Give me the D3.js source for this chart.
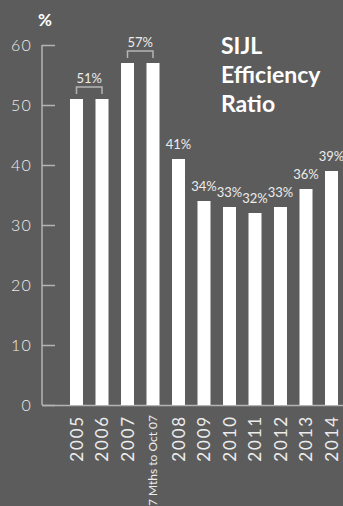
<!DOCTYPE html>
<html>
<head>
<meta charset="utf-8">
<script src="https://cdn.jsdelivr.net/npm/d3@7"></script>
<style>
  html, body { margin: 0; padding: 0; background: #5c5c5c; }
  svg { display: block; font-family: Lato, "Open Sans", sans-serif; }
</style>
</head>
<body>
<div id="chart"></div>
<script>
// Data
var categories = ["2005", "2006", "2007", "7 Mths to Oct 07", "2008", "2009", "2010", "2011", "2012", "2013", "2014"];
var values = [51, 51, 57, 57, 41, 34, 33, 32, 33, 36, 39];
var barLabels = ["", "", "", "", "41%", "34%", "33%", "32%", "33%", "36%", "39%"];
var brackets = [
  { from: "2005", to: "2006", label: "51%" },
  { from: "2007", to: "7 Mths to Oct 07", label: "57%" }
];
var yTicks = [0, 10, 20, 30, 40, 50, 60];
var titleLines = ["SIJL", "Efficiency", "Ratio"];

var width = 343;
var height = 506;
var axisColor = "#b4b4b4";
var textColor = "#ececec";

var svg = d3.select("#chart").append("svg")
  .attr("width", width)
  .attr("height", height);

/* Scales */
var xScale = d3.scaleBand()
  .domain(categories)
  .range([57.5, 350.5])
  .paddingInner(0.49)
  .paddingOuter(0.49);

var yScale = d3.scaleLinear()
  .domain([0, 60])
  .range([405, 45]);

/* Y axis */
var axisX = 42;
var yAxis = d3.axisRight(yScale)
  .tickValues(yTicks)
  .tickSize(13)
  .tickFormat("");

var yAxisGroup = svg.append("g")
  .attr("transform", `translate(${axisX},0)`)
  .call(yAxis);
yAxisGroup.select(".domain").remove();
yAxisGroup.selectAll("line").attr("stroke", axisColor).attr("stroke-width", 1.5);

svg.append("line")
  .attr("x1", axisX).attr("x2", axisX)
  .attr("y1", yScale(60)).attr("y2", yScale(0))
  .attr("stroke", axisColor)
  .attr("stroke-width", 1.5);

// baseline
svg.append("line")
  .attr("x1", axisX).attr("x2", width)
  .attr("y1", yScale(0) + 0.5).attr("y2", yScale(0) + 0.5)
  .attr("stroke", axisColor)
  .attr("stroke-width", 1.5);

svg.append("g").selectAll("text")
  .data(yTicks).enter()
  .append("text")
  .attr("x", 32)
  .attr("y", d => yScale(d))
  .attr("dy", "0.36em")
  .attr("text-anchor", "end")
  .attr("font-size", "16px")
  .attr("font-weight", 300)
  .attr("letter-spacing", "1.2px")
  .attr("fill", textColor)
  .text(d => d);

svg.append("text")
  .attr("x", 45)
  .attr("y", 26)
  .attr("text-anchor", "middle")
  .attr("font-size", "17px")
  .attr("font-weight", "bold")
  .attr("fill", "#ffffff")
  .text("%");

/* Bars */
svg.append("g").selectAll("rect")
  .data(values).enter()
  .append("rect")
  .attr("x", (d, i) => xScale(categories[i]))
  .attr("y", d => yScale(d))
  .attr("width", xScale.bandwidth())
  .attr("height", d => yScale(0) - yScale(d))
  .attr("fill", "#ffffff");

/* Single labels */
svg.append("g").selectAll("text")
  .data(values).enter()
  .append("text")
  .attr("x", (d, i) => xScale(categories[i]) + xScale.bandwidth() / 2)
  .attr("y", d => yScale(d) - 10)
  .attr("text-anchor", "middle")
  .attr("font-size", "13px")
  .attr("fill", textColor)
  .text((d, i) => barLabels[i]);

/* Brackets */
brackets.forEach(b => {
  var i = categories.indexOf(b.from);
  var x1 = xScale(b.from) + xScale.bandwidth() / 2;
  var x2 = xScale(b.to) + xScale.bandwidth() / 2;
  var top = yScale(values[i]) - 12;
  svg.append("path")
    .attr("d", `M${x1},${top + 7}V${top}H${x2}V${top + 7}`)
    .attr("fill", "none")
    .attr("stroke", axisColor)
    .attr("stroke-width", 1.5);
  svg.append("text")
    .attr("x", (x1 + x2) / 2)
    .attr("y", top - 4)
    .attr("text-anchor", "middle")
    .attr("font-size", "13px")
    .attr("fill", textColor)
    .text(b.label);
});

/* X labels */
svg.append("g").selectAll("text")
  .data(categories).enter()
  .append("text")
  .attr("transform", d => `translate(${xScale(d) + xScale.bandwidth() / 2},415) rotate(-90)`)
  .attr("dy", "0.36em")
  .attr("text-anchor", "end")
  .attr("font-size", d => d.length > 4 ? "12px" : "17px")
  .attr("letter-spacing", d => d.length > 4 ? "0px" : "1.8px")
  .attr("fill", textColor)
  .text(d => d);

/* Title */
svg.append("g").selectAll("text")
  .data(titleLines).enter()
  .append("text")
  .attr("x", 221)
  .attr("y", (d, i) => 54 + i * 29)
  .attr("font-size", "23px")
  .attr("font-weight", "bold")
  .attr("fill", "#ffffff")
  .text(d => d);
</script>
</body>
</html>
